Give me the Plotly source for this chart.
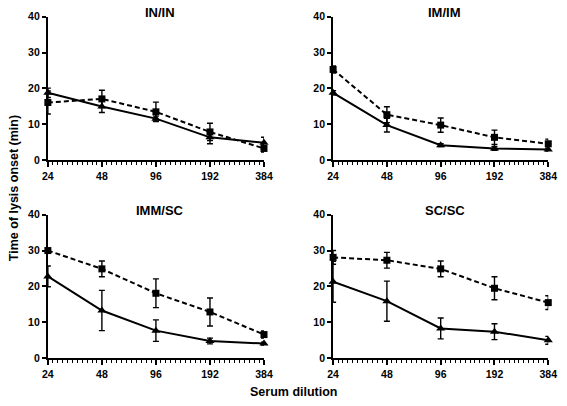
import numpy as np
import plotly.graph_objects as go

dilutions = [24, 48, 96, 192, 384]
tick_labels = ["24", "48", "96", "192", "384"]
panels = ["IN/IN", "IM/IM", "IMM/SC", "SC/SC"]

# triangle series (solid line)
tri_in = [18.8, 15.0, 11.6, 6.4, 4.9]
tri_in_err = [1.3, 1.7, 0.7, 1.8, 1.5]
tri_im = [18.8, 9.8, 4.2, 3.3, 3.0]
tri_im_err = [0.6, 1.9, 0.4, 0.5, 0.4]
tri_imm = [22.8, 13.3, 7.7, 4.8, 4.1]
tri_imm_err = [2.9, 5.6, 3.0, 0.8, 0.4]
tri_sc = [21.3, 15.9, 8.3, 7.4, 5.0]
tri_sc_err = [5.7, 5.6, 2.9, 2.2, 1.1]

# square series (dashed line)
sq_in = [16.1, 17.1, 13.5, 7.9, 3.3]
sq_in_err = [3.2, 2.4, 2.7, 2.4, 1.0]
sq_im = [25.3, 12.7, 9.8, 6.4, 4.6]
sq_im_err = [1.0, 2.2, 2.0, 2.0, 1.3]
sq_imm = [30.0, 24.9, 18.1, 12.9, 6.6]
sq_imm_err = [0.5, 2.2, 4.0, 3.9, 1.0]
sq_sc = [28.1, 27.3, 24.9, 19.5, 15.5]
sq_sc_err = [1.9, 2.2, 2.2, 3.2, 1.9]

tri_series = [(tri_in, tri_in_err), (tri_im, tri_im_err), (tri_imm, tri_imm_err), (tri_sc, tri_sc_err)]
sq_series = [(sq_in, sq_in_err), (sq_im, sq_im_err), (sq_imm, sq_imm_err), (sq_sc, sq_sc_err)]

W, H = 567, 406
# pixel boxes: (left, right, top, bottom)
boxes = [(43, 265, 11, 159), (336, 557, 11, 159), (43, 265, 215, 363), (336, 557, 215, 363)]

# minor ticks evenly spaced in log between majors
minor_vals = []
for a, b in zip(dilutions[:-1], dilutions[1:]):
    for k in range(1, 11):
        minor_vals.append(a * (b / a) ** (k / 11))

fig = go.Figure()
FONT = "Liberation Sans"
layout = {}
annotations = []
for i, (name, box) in enumerate(zip(panels, boxes)):
    n = "" if i == 0 else str(i + 1)
    xa, ya = "x" + n, "y" + n
    l, r, t, b = box
    (ty, te), (sy, se) = tri_series[i], sq_series[i]
    fig.add_trace(go.Scatter(
        x=dilutions, y=sy, xaxis=xa, yaxis=ya, mode="lines+markers",
        line=dict(color="black", width=2, dash="5px,3px"),
        marker=dict(symbol="square", size=7, color="black"),
        error_y=dict(type="data", array=se, color="black", thickness=1.4, width=3),
        cliponaxis=False, showlegend=False))
    fig.add_trace(go.Scatter(
        x=dilutions, y=ty, xaxis=xa, yaxis=ya, mode="lines+markers",
        line=dict(color="black", width=2),
        marker=dict(symbol="triangle-up", size=8, color="black"),
        error_y=dict(type="data", array=te, color="black", thickness=1.4, width=3),
        cliponaxis=False, showlegend=False))
    layout["xaxis" + n] = dict(
        type="log", domain=[l / W, r / W], anchor=ya,
        range=[np.log10(24), np.log10(384)],
        tickmode="array", tickvals=dilutions, ticktext=tick_labels,
        ticks="outside", ticklen=5, tickwidth=1.5, tickcolor="black",
        showline=True, linecolor="black", linewidth=2, showgrid=False, zeroline=False,
        ticklabeloverflow="allow",
        tickfont=dict(family=FONT, size=10.5, color="black", weight="bold"),
        minor=dict(tickmode="array", tickvals=minor_vals, ticks="outside", ticklen=3,
                   tickwidth=1.2, tickcolor="black", showgrid=False))
    layout["yaxis" + n] = dict(
        domain=[1 - b / H, 1 - t / H], anchor=xa, range=[0, 40],
        tickvals=[0, 10, 20, 30, 40],
        ticks="outside", ticklen=4, tickwidth=1.5, tickcolor="black",
        showline=True, linecolor="black", linewidth=2, showgrid=False, zeroline=False,
        tickfont=dict(family=FONT, size=10.5, color="black", weight="bold"))
    annotations.append(dict(
        text="<b>%s</b>" % name, xref="paper", yref="paper",
        x=((l + r) / 2 + 4) / W, y=1 - (t - 4) / H, showarrow=False,
        xanchor="center", yanchor="middle",
        font=dict(family=FONT, size=13, color="black")))

annotations.append(dict(text="<b>Serum dilution</b>", xref="paper", yref="paper",
                        x=296 / W, y=1 - 398 / H, showarrow=False,
                        xanchor="center", yanchor="middle",
                        font=dict(family=FONT, size=12.5, color="black")))
annotations.append(dict(text="<b>Time of lysis onset (min)</b>", xref="paper", yref="paper",
                        x=9 / W, y=1 - 188 / H, showarrow=False, textangle=-90,
                        xanchor="center", yanchor="middle",
                        font=dict(family=FONT, size=12.5, color="black")))

fig.update_layout(width=W, height=H, margin=dict(l=0, r=0, t=0, b=0),
                  paper_bgcolor="white", plot_bgcolor="white",
                  annotations=annotations, **layout)
fig.write_html("out.html", config={"displayModeBar": False},
               post_script="document.body.style.margin='0';")
